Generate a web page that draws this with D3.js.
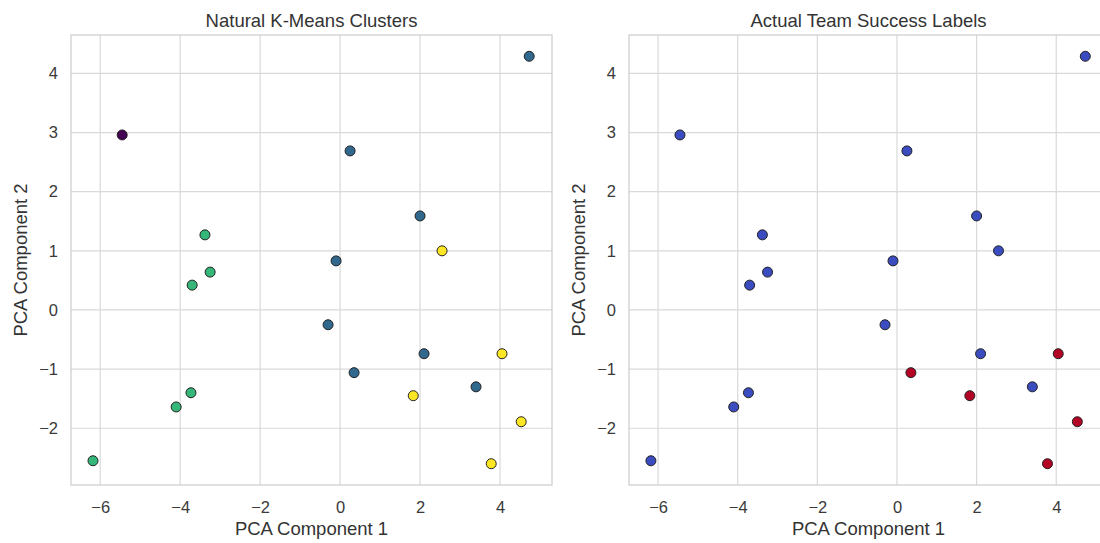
<!DOCTYPE html>
<html>
<head>
<meta charset="utf-8">
<script src="https://cdn.jsdelivr.net/npm/d3@7"></script>
<style>
  body { margin: 0; background: #fff; }
  svg text { font-family: "Liberation Sans", Arial, sans-serif; fill: #333; }
</style>
</head>
<body>
<div id="chart"></div>
<script>
// PCA coordinates of each team
const pcaX = [4.73, -5.45, 0.25, 2.0, 2.55, -3.38, -3.25, -3.7, -0.1, -0.3,
              2.1, 4.05, 0.35, 3.4, 1.83, -3.73, -4.1, 4.53, 3.78, -6.18];
const pcaY = [4.29, 2.96, 2.69, 1.59, 1.0, 1.27, 0.64, 0.42, 0.83, -0.25,
              -0.74, -0.74, -1.06, -1.3, -1.45, -1.4, -1.64, -1.89, -2.6, -2.55];
// k-means cluster id (0..3) and actual success label (0/1)
const cluster = [1, 0, 1, 1, 3, 2, 2, 2, 1, 1, 1, 3, 1, 1, 3, 2, 2, 3, 3, 2];
const success = [0, 0, 0, 0, 0, 0, 0, 0, 0, 0, 0, 1, 1, 0, 1, 0, 0, 1, 1, 0];

const xTicks = [-6, -4, -2, 0, 2, 4];
const yTicks = [-2, -1, 0, 1, 2, 3, 4];

const clusterColors = ["#440154", "#31688e", "#35b779", "#fde725"];
const successColors = ["#3b4cc0", "#b40426"];

const width = 1100, height = 543;
const svg = d3.select("#chart").append("svg")
  .attr("width", width)
  .attr("height", height);

const points = pcaX.map((x, i) => ({ x, y: pcaY[i], c: cluster[i], s: success[i] }));

function drawPanel(left, right, title, colorOf) {
  const top = 35, bottom = 485;
  const x = d3.scaleLinear().domain([-6.73, 5.3]).range([left, right]);
  const y = d3.scaleLinear().domain([-2.96, 4.65]).range([bottom, top]);

  const g = svg.append("g");

  // grid
  g.append("g").selectAll("line").data(xTicks).enter().append("line")
    .attr("x1", d => x(d)).attr("x2", d => x(d))
    .attr("y1", top).attr("y2", bottom)
    .attr("stroke", "#d9d9d9").attr("stroke-width", 1.2);
  g.append("g").selectAll("line").data(yTicks).enter().append("line")
    .attr("x1", left).attr("x2", right)
    .attr("y1", d => y(d)).attr("y2", d => y(d))
    .attr("stroke", "#d9d9d9").attr("stroke-width", 1.2);

  // frame
  g.append("rect")
    .attr("x", left).attr("y", top)
    .attr("width", right - left).attr("height", bottom - top)
    .attr("fill", "none").attr("stroke", "#cccccc").attr("stroke-width", 1.2);

  // axes (labels only)
  const fmt = d => d3.format("d")(d).replace("-", "\u2212");
  const xa = g.append("g").attr("transform", `translate(0,${bottom})`)
    .call(d3.axisBottom(x).tickValues(xTicks).tickSize(0).tickPadding(16).tickFormat(fmt));
  const ya = g.append("g").attr("transform", `translate(${left},0)`)
    .call(d3.axisLeft(y).tickValues(yTicks).tickSize(0).tickPadding(13).tickFormat(fmt));
  [xa, ya].forEach(a => {
    a.select(".domain").remove();
    a.selectAll("text").attr("font-size", 16.5).style("fill", "#3a3a3a");
  });

  // points
  g.append("g").selectAll("circle").data(points).enter().append("circle")
    .attr("cx", d => x(d.x)).attr("cy", d => y(d.y))
    .attr("r", 5)
    .attr("fill", colorOf)
    .attr("stroke", "#222").attr("stroke-width", 1);

  const mid = (left + right) / 2;
  g.append("text").attr("x", mid).attr("y", 27)
    .attr("text-anchor", "middle").attr("font-size", 18.5)
    .text(title);
  g.append("text").attr("x", mid).attr("y", 535)
    .attr("text-anchor", "middle").attr("font-size", 18.5)
    .text("PCA Component 1");
  g.append("text")
    .attr("transform", `translate(${left - 44},${(top + bottom) / 2}) rotate(-90)`)
    .attr("text-anchor", "middle").attr("font-size", 18.5)
    .text("PCA Component 2");
}

drawPanel(71, 552, "Natural K-Means Clusters", d => clusterColors[d.c]);
drawPanel(629, 1108, "Actual Team Success Labels", d => successColors[d.s]);
</script>
</body>
</html>
